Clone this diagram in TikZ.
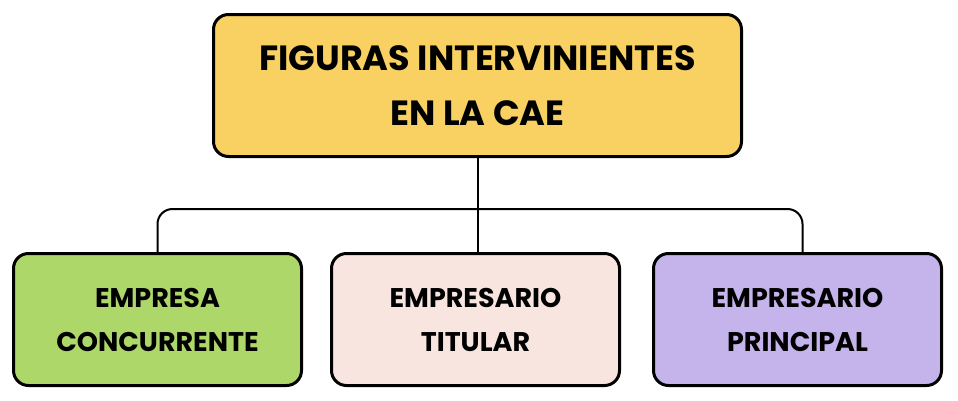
\documentclass[tikz,border=0pt]{standalone}
\usepackage{fontspec}
\setsansfont{Poppins}
\usetikzlibrary{positioning}

\definecolor{topyellow}{RGB}{249,209,98}
\definecolor{leafgreen}{RGB}{174,215,106}
\definecolor{leafpink}{RGB}{249,229,224}
\definecolor{leafviolet}{RGB}{197,179,235}

\begin{document}
\begin{tikzpicture}[font=\sffamily,
    box/.style={draw, line width=3pt, rounded corners=15pt, align=center, inner sep=0pt},
    topbox/.style={box, fill=topyellow, minimum width=528pt, minimum height=142pt, font=\sffamily\bfseries\fontsize{35}{55}\selectfont},
    leafbox/.style={box, minimum width=288pt, minimum height=132pt, font=\sffamily\bfseries\fontsize{27}{44}\selectfont},
    conn/.style={line width=2pt, rounded corners=15pt}]
    \useasboundingbox (0,0) rectangle (958pt,-400pt);
    \node (figuras) [topbox] at (477.5pt,-85.5pt) {FIGURAS INTERVINIENTES\\EN LA CAE};
    \node (titular) [below=94pt of figuras, xshift=-2pt, leafbox, fill=leafpink] {EMPRESARIO\\TITULAR};
    \node (concurrente) [left=27pt of titular, leafbox, fill=leafgreen] {EMPRESA\\CONCURRENTE};
    \node (principal) [right=31pt of titular, leafbox, fill=leafviolet] {EMPRESARIO\\PRINCIPAL};
    \coordinate (bus) at (figuras.south |- 0,-209pt);
    \draw [conn] (figuras.south) -- (figuras.south |- titular.north);
    \draw [conn] (concurrente.north) |- (bus) -| ([xshift=5pt]principal.north);
\end{tikzpicture}
\end{document}
